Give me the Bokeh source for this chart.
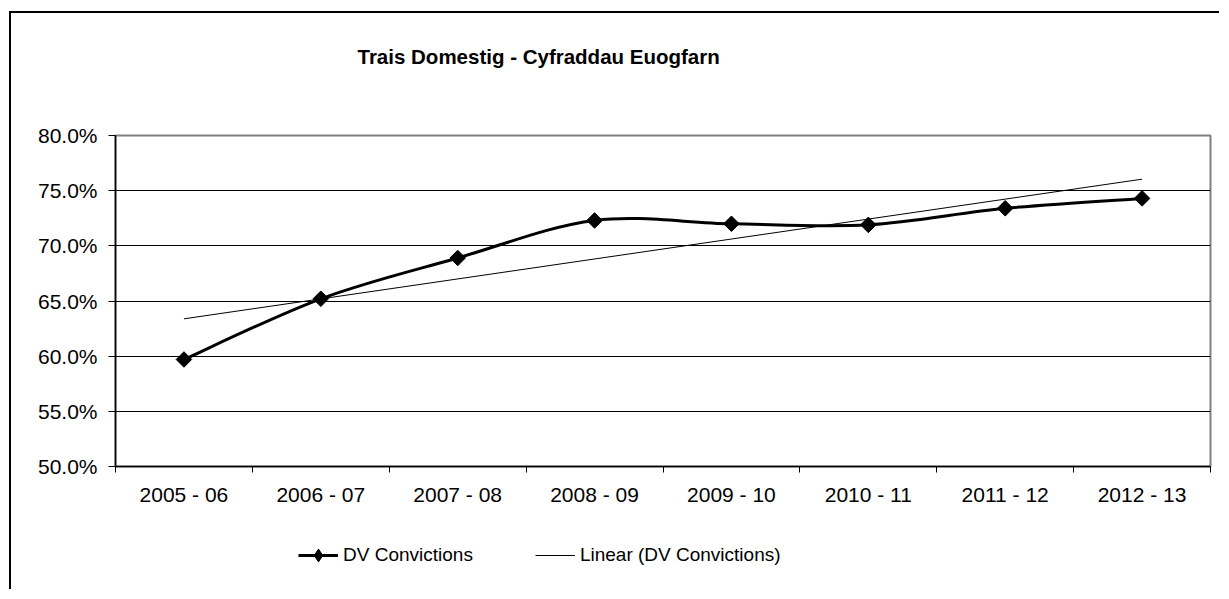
import numpy as np
from bokeh.plotting import figure
from bokeh.layouts import column
from bokeh.models import FixedTicker, Range1d, Legend, LegendItem, Title
from bokeh.embed import file_html
from bokeh.resources import INLINE

# ---- data ----
periods = ["2005 - 06", "2006 - 07", "2007 - 08", "2008 - 09",
           "2009 - 10", "2010 - 11", "2011 - 12", "2012 - 13"]
convictions = [59.7, 65.2, 68.9, 72.3, 72.0, 71.9, 73.4, 74.3]
y_ticks = [50, 55, 60, 65, 70, 75, 80]
y_tick_labels = ["50.0%", "55.0%", "60.0%", "65.0%", "70.0%", "75.0%", "80.0%"]
title_text = "Trais Domestig - Cyfraddau Euogfarn"
series_name = "DV Convictions"
trend_name = "Linear (DV Convictions)"

FONT = "Liberation Sans"

n = len(periods)
xs = np.arange(n) + 0.5
ys = np.array(convictions, dtype=float)

# smoothed (Excel-style) bezier segments through the points
ext_x = np.concatenate([[xs[0]], xs, [xs[-1]]])
ext_y = np.concatenate([[ys[0]], ys, [ys[-1]]])
x0, y0, x1, y1, cx0, cy0, cx1, cy1 = ([] for _ in range(8))
for i in range(n - 1):
    p0x, p0y = ext_x[i], ext_y[i]
    p1x, p1y = ext_x[i + 1], ext_y[i + 1]
    p2x, p2y = ext_x[i + 2], ext_y[i + 2]
    p3x, p3y = ext_x[i + 3], ext_y[i + 3]
    x0.append(p1x); y0.append(p1y); x1.append(p2x); y1.append(p2y)
    cx0.append(p1x + (p2x - p0x) / 6); cy0.append(p1y + (p2y - p0y) / 6)
    cx1.append(p2x - (p3x - p1x) / 6); cy1.append(p2y - (p3y - p1y) / 6)

# linear trendline of the series
slope, intercept = np.polyfit(np.arange(n), ys, 1)
trend_x = [xs[0], xs[-1]]
trend_y = [intercept, intercept + slope * (n - 1)]

W = 1208
p = figure(width=W, height=510, output_backend="svg", toolbar_location=None,
           x_range=Range1d(0, n), y_range=Range1d(y_ticks[0], y_ticks[-1]),
           min_border_left=104, min_border_right=9, min_border_top=122,
           min_border_bottom=57)
p.background_fill_color = "white"
p.border_fill_color = "white"
p.outline_line_color = "#808080"
p.outline_line_width = 2

# spacer between title and plot frame
p.add_layout(Title(text=" ", text_font_size="1px", standoff=65), "above")

# title
p.title.text = title_text
p.title.text_font = FONT
p.title.text_font_style = "bold"
p.title.text_font_size = "20.5px"
p.title.text_color = "black"
p.title.align = "left"
p.title.offset = 242
p.title.standoff = 0

# grid
p.xgrid.visible = False
p.ygrid.ticker = FixedTicker(ticks=y_ticks[1:-1])
p.ygrid.grid_line_color = "black"
p.ygrid.grid_line_width = 1

# x axis
p.xaxis.ticker = FixedTicker(ticks=list(xs), minor_ticks=list(range(n + 1)))
p.xaxis.major_label_overrides = {float(xv): lab for xv, lab in zip(xs, periods)}
p.xaxis.major_tick_line_color = None
p.xaxis.major_tick_out = 0
p.xaxis.major_tick_in = 0
p.xaxis.minor_tick_line_color = "black"
p.xaxis.minor_tick_out = 6
p.xaxis.minor_tick_in = 0
p.xaxis.major_label_standoff = 10
p.xaxis.axis_line_color = "black"
p.xaxis.axis_line_width = 1.5
p.xaxis.major_label_text_font = FONT
p.xaxis.major_label_text_font_size = "21px"
p.xaxis.major_label_text_color = "black"

# y axis
p.yaxis.ticker = FixedTicker(ticks=y_ticks)
p.yaxis.major_label_overrides = {t: lab for t, lab in zip(y_ticks, y_tick_labels)}
p.yaxis.major_tick_out = 7
p.yaxis.major_tick_in = 0
p.yaxis.major_tick_line_color = "black"
p.yaxis.minor_tick_line_color = None
p.yaxis.major_label_standoff = 11
p.yaxis.axis_line_color = "black"
p.yaxis.axis_line_width = 1.5
p.yaxis.major_label_text_font = FONT
p.yaxis.major_label_text_font_size = "21px"
p.yaxis.major_label_text_color = "black"

# trendline
p.line(trend_x, trend_y, line_color="black", line_width=1)

# smoothed series line + markers
p.bezier(x0=x0, y0=y0, x1=x1, y1=y1, cx0=cx0, cy0=cy0, cx1=cx1, cy1=cy1,
         line_color="black", line_width=3)
p.scatter(xs, ys, marker="square", angle=np.pi / 4, size=11,
          fill_color="black", line_color="black")

# ---- legend strip (separate figure below the chart) ----
# its y range is chosen so that the proxy series lie outside the visible strip
lg = figure(width=W, height=66, output_backend="svg", toolbar_location=None,
            x_range=Range1d(0, n), y_range=Range1d(0, 1),
            x_axis_location=None, y_axis_location=None, min_border=0)
lg.grid.visible = False
lg.outline_line_color = None
lg.background_fill_color = "white"
lg.border_fill_color = "white"

leg_line = lg.line(xs, ys, line_color="black", line_width=3)
leg_mark = lg.scatter(xs, ys, marker="diamond", size=11,
                      fill_color="black", line_color="black")
leg_trend = lg.line(trend_x, trend_y, line_color="black", line_width=1)

legend = Legend(items=[LegendItem(label=series_name, renderers=[leg_line, leg_mark]),
                       LegendItem(label=trend_name, renderers=[leg_trend])],
                orientation="horizontal", location=(183, 18),
                glyph_width=40, glyph_height=32, label_height=20,
                label_standoff=5, spacing=62, padding=0, margin=0,
                border_line_color=None, background_fill_alpha=0,
                label_text_font=FONT, label_text_font_size="19px",
                label_text_color="black")
lg.add_layout(legend)

layout = column(p, lg, spacing=0)
layout.styles = {"margin-left": "9px", "margin-top": "11px",
                 "border-left": "2px solid black", "border-top": "2px solid black"}

open("out.html", "w").write(file_html(layout, INLINE))
